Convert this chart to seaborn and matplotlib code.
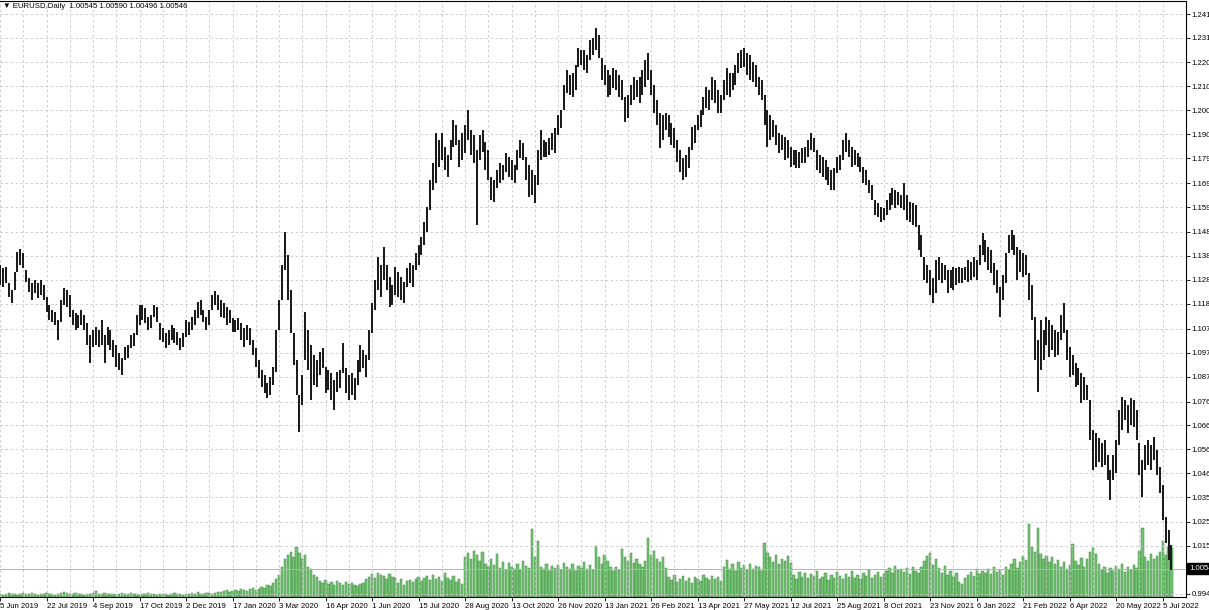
import numpy as np
import pandas as pd
import matplotlib
matplotlib.use("Agg")
import matplotlib.pyplot as plt
import matplotlib.transforms as mtransforms
import seaborn as sns

# =========================
# Data (EURUSD, one bar per 2 trading days)
# =========================
high = [
    1.1345, 1.1333, 1.1337, 1.1269, 1.1239, 1.1316, 1.1401, 1.1413, 1.1396, 1.1324,
    1.1290, 1.1269, 1.1282, 1.1269, 1.1282, 1.1260, 1.1209, 1.1175, 1.1154, 1.1146,
    1.1112, 1.1197, 1.1248, 1.1239, 1.1218, 1.1154, 1.1141, 1.1133, 1.1154, 1.1133,
    1.1099, 1.1048, 1.1069, 1.1082, 1.1069, 1.1112, 1.1048, 1.1082, 1.1069, 1.1027,
    1.1005, 1.0971, 1.0950, 1.0997, 1.1005, 1.1048, 1.1056, 1.1133, 1.1175, 1.1175,
    1.1163, 1.1124, 1.1133, 1.1175, 1.1167, 1.1099, 1.1078, 1.1056, 1.1069, 1.1090,
    1.1078, 1.1061, 1.1035, 1.1056, 1.1112, 1.1103, 1.1124, 1.1154, 1.1188, 1.1197,
    1.1154, 1.1124, 1.1154, 1.1218, 1.1235, 1.1218, 1.1197, 1.1184, 1.1167, 1.1154,
    1.1120, 1.1112, 1.1120, 1.1099, 1.1078, 1.1090, 1.1078, 1.1027, 1.0993, 1.0942,
    1.0899, 1.0878, 1.0844, 1.0869, 1.0912, 1.1069, 1.1197, 1.1345, 1.1486, 1.1388,
    1.1239, 1.1056, 1.0942, 1.0793, 1.0878, 1.1146, 1.1069, 1.1005, 1.0963, 1.0942,
    1.0976, 1.0993, 1.0912, 1.0899, 1.0886, 1.0857, 1.0891, 1.0899, 1.1014, 1.0908,
    1.0878, 1.0886, 1.0865, 1.0942, 1.1005, 1.0984, 1.0963, 1.1069, 1.1184, 1.1282,
    1.1379, 1.1345, 1.1422, 1.1345, 1.1294, 1.1260, 1.1337, 1.1316, 1.1294, 1.1273,
    1.1333, 1.1354, 1.1345, 1.1396, 1.1430, 1.1464, 1.1528, 1.1592, 1.1707, 1.1779,
    1.1906, 1.1877, 1.1906, 1.1847, 1.1813, 1.1877, 1.1962, 1.1940, 1.1877, 1.1906,
    1.1940, 1.2004, 1.1919, 1.1898, 1.1834, 1.1898, 1.1919, 1.1868, 1.1834, 1.1719,
    1.1707, 1.1749, 1.1779, 1.1770, 1.1821, 1.1804, 1.1792, 1.1770, 1.1834, 1.1877,
    1.1864, 1.1804, 1.1770, 1.1749, 1.1728, 1.1834, 1.1919, 1.1877, 1.1868, 1.1885,
    1.1906, 1.1928, 1.1983, 1.2004, 1.2110, 1.2174, 1.2153, 1.2161, 1.2195, 1.2268,
    1.2259, 1.2259, 1.2238, 1.2302, 1.2310, 1.2353, 1.2323, 1.2225, 1.2195, 1.2174,
    1.2153, 1.2183, 1.2174, 1.2153, 1.2132, 1.2059, 1.2068, 1.2110, 1.2144, 1.2132,
    1.2144, 1.2174, 1.2217, 1.2246, 1.2174, 1.2110, 1.2047, 1.1991, 1.1983, 1.1991,
    1.1983, 1.1949, 1.1928, 1.1877, 1.1834, 1.1800, 1.1813, 1.1847, 1.1932, 1.1940,
    1.1983, 1.2004, 1.2059, 1.2102, 1.2089, 1.2144, 1.2132, 1.2089, 1.2068, 1.2132,
    1.2183, 1.2161, 1.2161, 1.2195, 1.2246, 1.2259, 1.2268, 1.2246, 1.2238, 1.2208,
    1.2195, 1.2144, 1.2132, 1.2068, 1.2004, 1.1983, 1.1962, 1.1940, 1.1906, 1.1898,
    1.1889, 1.1877, 1.1847, 1.1834, 1.1834, 1.1826, 1.1843, 1.1847, 1.1877, 1.1906,
    1.1885, 1.1834, 1.1813, 1.1804, 1.1792, 1.1762, 1.1749, 1.1758, 1.1804, 1.1813,
    1.1877, 1.1906, 1.1877, 1.1847, 1.1834, 1.1821, 1.1804, 1.1762, 1.1749, 1.1707,
    1.1685, 1.1622, 1.1609, 1.1592, 1.1588, 1.1622, 1.1651, 1.1673, 1.1664, 1.1656,
    1.1643, 1.1694, 1.1643, 1.1613, 1.1609, 1.1600, 1.1515, 1.1473, 1.1379, 1.1345,
    1.1324, 1.1290, 1.1367, 1.1379, 1.1354, 1.1345, 1.1324, 1.1324, 1.1337, 1.1333,
    1.1337, 1.1333, 1.1337, 1.1367, 1.1358, 1.1379, 1.1367, 1.1430, 1.1481, 1.1452,
    1.1422, 1.1409, 1.1354, 1.1324, 1.1252, 1.1303, 1.1396, 1.1473, 1.1494, 1.1473,
    1.1422, 1.1409, 1.1396, 1.1388, 1.1311, 1.1260, 1.1124, 1.1027, 1.1112, 1.1069,
    1.1124, 1.1112, 1.1090, 1.1069, 1.1061, 1.1133, 1.1184, 1.1069, 1.0997, 1.0963,
    1.0929, 1.0908, 1.0886, 1.0869, 1.0835, 1.0772, 1.0644, 1.0631, 1.0610, 1.0589,
    1.0602, 1.0538, 1.0474, 1.0538, 1.0602, 1.0729, 1.0784, 1.0772, 1.0750, 1.0780,
    1.0772, 1.0729, 1.0589, 1.0517, 1.0580, 1.0602, 1.0580, 1.0614, 1.0559, 1.0487,
    1.0410, 1.0274, 1.0219, 1.0155,
]

low = [
    1.1260, 1.1252, 1.1269, 1.1209, 1.1184, 1.1239, 1.1316, 1.1345, 1.1333, 1.1273,
    1.1231, 1.1197, 1.1226, 1.1205, 1.1218, 1.1197, 1.1146, 1.1112, 1.1103, 1.1090,
    1.1027, 1.1103, 1.1175, 1.1167, 1.1124, 1.1090, 1.1069, 1.1078, 1.1090, 1.1069,
    1.1005, 1.0929, 1.0997, 1.1005, 1.0997, 1.1005, 1.0929, 1.1005, 1.0984, 1.0954,
    1.0912, 1.0899, 1.0878, 1.0942, 1.0950, 1.0993, 1.1001, 1.1048, 1.1090, 1.1112,
    1.1099, 1.1069, 1.1078, 1.1124, 1.1103, 1.1027, 1.1018, 1.0993, 1.1005, 1.1027,
    1.1014, 1.1005, 1.0984, 1.0997, 1.1039, 1.1048, 1.1069, 1.1090, 1.1120, 1.1133,
    1.1103, 1.1069, 1.1090, 1.1154, 1.1175, 1.1154, 1.1124, 1.1120, 1.1090, 1.1099,
    1.1061, 1.1061, 1.1069, 1.1027, 1.0997, 1.1027, 1.1005, 1.0963, 1.0912, 1.0865,
    1.0827, 1.0801, 1.0780, 1.0793, 1.0835, 1.0891, 1.1069, 1.1197, 1.1324, 1.1197,
    1.1056, 1.0920, 1.0793, 1.0636, 1.0750, 1.0942, 1.0899, 1.0772, 1.0835, 1.0827,
    1.0878, 1.0908, 1.0801, 1.0814, 1.0772, 1.0729, 1.0806, 1.0823, 1.0886, 1.0801,
    1.0772, 1.0793, 1.0772, 1.0835, 1.0891, 1.0908, 1.0869, 1.0942, 1.1056, 1.1154,
    1.1239, 1.1209, 1.1282, 1.1239, 1.1167, 1.1175, 1.1218, 1.1209, 1.1197, 1.1184,
    1.1252, 1.1269, 1.1252, 1.1324, 1.1345, 1.1388, 1.1430, 1.1486, 1.1579, 1.1664,
    1.1694, 1.1762, 1.1792, 1.1749, 1.1719, 1.1792, 1.1847, 1.1855, 1.1762, 1.1792,
    1.1821, 1.1877, 1.1813, 1.1779, 1.1515, 1.1792, 1.1826, 1.1749, 1.1707, 1.1622,
    1.1613, 1.1673, 1.1694, 1.1707, 1.1741, 1.1719, 1.1707, 1.1694, 1.1749, 1.1800,
    1.1792, 1.1707, 1.1634, 1.1643, 1.1609, 1.1685, 1.1792, 1.1804, 1.1804, 1.1813,
    1.1834, 1.1821, 1.1898, 1.1928, 1.2004, 1.2076, 1.2068, 1.2059, 1.2089, 1.2187,
    1.2195, 1.2174, 1.2161, 1.2217, 1.2238, 1.2259, 1.2225, 1.2132, 1.2110, 1.2059,
    1.2068, 1.2098, 1.2089, 1.2059, 1.2047, 1.1953, 1.1970, 1.2025, 1.2047, 1.2059,
    1.2034, 1.2068, 1.2102, 1.2132, 1.2068, 1.1991, 1.1940, 1.1843, 1.1877, 1.1919,
    1.1889, 1.1855, 1.1843, 1.1783, 1.1741, 1.1707, 1.1719, 1.1758, 1.1834, 1.1864,
    1.1919, 1.1932, 1.1983, 1.2013, 1.2004, 1.2047, 1.2034, 1.1991, 1.1991, 1.2047,
    1.2068, 1.2059, 1.2089, 1.2110, 1.2161, 1.2183, 1.2187, 1.2153, 1.2132, 1.2123,
    1.2102, 1.2068, 1.2047, 1.1940, 1.1847, 1.1877, 1.1889, 1.1855, 1.1821, 1.1834,
    1.1792, 1.1800, 1.1762, 1.1770, 1.1758, 1.1758, 1.1779, 1.1779, 1.1804, 1.1834,
    1.1826, 1.1749, 1.1736, 1.1719, 1.1707, 1.1685, 1.1664, 1.1664, 1.1736, 1.1749,
    1.1792, 1.1826, 1.1804, 1.1762, 1.1770, 1.1762, 1.1741, 1.1694, 1.1685, 1.1651,
    1.1622, 1.1558, 1.1549, 1.1528, 1.1537, 1.1558, 1.1579, 1.1600, 1.1588, 1.1600,
    1.1588, 1.1579, 1.1537, 1.1528, 1.1515, 1.1507, 1.1409, 1.1379, 1.1282, 1.1269,
    1.1218, 1.1184, 1.1226, 1.1282, 1.1269, 1.1282, 1.1226, 1.1248, 1.1239, 1.1260,
    1.1269, 1.1269, 1.1282, 1.1273, 1.1282, 1.1294, 1.1282, 1.1345, 1.1388, 1.1358,
    1.1324, 1.1311, 1.1260, 1.1226, 1.1124, 1.1197, 1.1269, 1.1396, 1.1409, 1.1388,
    1.1282, 1.1316, 1.1294, 1.1303, 1.1197, 1.1112, 1.0942, 1.0806, 1.0899, 1.0942,
    1.1005, 1.0954, 1.0984, 1.0954, 1.0963, 1.1027, 1.1056, 1.0942, 1.0869, 1.0878,
    1.0827, 1.0835, 1.0759, 1.0772, 1.0772, 1.0602, 1.0474, 1.0487, 1.0508, 1.0487,
    1.0495, 1.0432, 1.0347, 1.0432, 1.0461, 1.0580, 1.0644, 1.0687, 1.0631, 1.0665,
    1.0657, 1.0602, 1.0453, 1.0359, 1.0474, 1.0495, 1.0474, 1.0517, 1.0453, 1.0376,
    1.0262, 1.0164, 1.0092, 1.0049,
]

# tick volume (thousands)
tick_volume = [
    3, 2, 3, 4, 3, 3, 2, 3, 4, 3, 3, 4, 3, 2, 3, 3, 4, 3, 3, 2,
    3, 4, 5, 4, 3, 3, 4, 3, 3, 2, 3, 3, 4, 6, 3, 3, 4, 3, 3, 3,
    2, 3, 4, 3, 3, 4, 3, 3, 2, 3, 3, 4, 3, 3, 2, 3, 3, 3, 2, 3,
    4, 3, 3, 2, 3, 3, 4, 3, 5, 3, 3, 4, 4, 3, 4, 5, 5,
    6, 7, 5, 6,
    7, 6, 8, 7, 6, 8, 9, 7, 8, 10, 9, 12,
    11, 14, 18, 22, 30, 38, 42, 45, 40, 50, 44, 38, 42, 30, 28, 22, 20,
    16, 14, 17, 13, 15, 12, 16, 14, 12, 15, 13, 14, 12,
    11, 13, 14, 18,
    20, 23, 19, 24, 22, 21, 18, 23, 20, 19,
    14, 18, 12, 16,
    17, 15, 18, 20, 16, 19, 21, 17,
    22, 18, 20, 16, 24, 19, 17, 21, 15, 18, 13,
    40, 44, 38, 46, 42, 36, 45, 33,
    30, 38, 32, 43, 29, 35, 27, 34,
    30, 28, 33, 27, 36, 31, 29,
    68, 40, 56,
    30, 28, 33, 26, 31, 29,
    32, 27, 34, 30, 28, 33, 26, 31, 29, 35, 28, 32, 27,
    51, 40, 33, 42, 36, 30, 26, 30, 27, 48, 40, 36,
    44, 34, 38, 33, 30, 36, 59, 42, 46, 38, 35, 40, 29,
    20, 17, 22, 15, 18, 21, 16, 19, 14, 20,
    18, 16, 22, 19, 17, 21, 18, 20, 16,
    30, 37, 28, 33, 26, 35,
    29, 32, 27, 33, 28, 31, 30, 26,
    54, 44,
    40, 35, 42, 33, 38, 36, 41, 34,
    22, 18, 25, 20, 24, 19, 23, 21, 26, 18,
    20, 24, 17, 22, 19, 25, 21, 18, 23, 20, 26, 19, 22,
    18, 24, 21, 27, 19, 22, 25, 20, 23,
    26, 29, 24, 31, 27, 28,
    25, 29, 23, 30, 26, 24,
    30, 36, 41, 44, 32, 38,
    29, 24, 31, 22,
    26, 20, 24, 15, 13, 19, 22,
    25, 21, 28, 23, 26,
    24, 28, 23, 30, 25, 27, 22,
    30, 27, 33, 38, 29,
    35, 41, 37, 73, 50, 45, 69,
    43, 38, 41, 35, 40, 33, 37,
    30, 35, 28, 32, 53,
    36, 32, 39, 30, 38, 45, 49, 43,
    33, 27, 30, 24, 29, 26, 31,
    28, 33, 25, 30, 27, 32, 29, 46, 69,
    40, 36, 43, 38, 41,
    45, 56, 42, 50, 49,
]

date_labels = [
    "5 Jun 2019", "22 Jul 2019", "4 Sep 2019", "17 Oct 2019", "2 Dec 2019",
    "17 Jan 2020", "3 Mar 2020", "16 Apr 2020", "1 Jun 2020", "15 Jul 2020",
    "28 Aug 2020", "13 Oct 2020", "26 Nov 2020", "13 Jan 2021", "26 Feb 2021",
    "13 Apr 2021", "27 May 2021", "12 Jul 2021", "25 Aug 2021", "8 Oct 2021",
    "23 Nov 2021", "6 Jan 2022", "21 Feb 2022", "6 Apr 2022", "20 May 2022",
    "5 Jul 2022",
]
bars_per_label = 16

price_ticks = [0.9947, 1.0151, 1.0253, 1.0358, 1.0460, 1.0562, 1.0664, 1.0765,
               1.0871, 1.0973, 1.1075, 1.1180, 1.1282, 1.1384, 1.1486, 1.1591,
               1.1693, 1.1799, 1.1900, 1.2002, 1.2104, 1.2206, 1.2311, 1.2412]

header = "\u25bc EURUSD,Daily  1.00545 1.00590 1.00496 1.00546"
last_price = 1.00546
last_price_label = "1.0054"

# =========================
# Prepare
# =========================
n = min(len(high), len(low), len(tick_volume))
bars = pd.DataFrame({
    "bar": np.arange(n),
    "high": high[:n],
    "low": low[:n],
    "volume": tick_volume[:n],
})

sns.set_theme(style="white")
plt.rcParams["font.family"] = ["Liberation Sans", "DejaVu Sans"]
fs = 5.6

W, H = 1209, 610
fig = plt.figure(figsize=(W / 100, H / 100), dpi=100)
fig.patch.set_facecolor("white")
ax = fig.add_axes([0, 13 / H, 1186 / W, 596 / H])
ax_vol = ax.twinx()
ax.set_zorder(ax_vol.get_zorder() + 1)
ax.patch.set_visible(False)

# Volume histogram
sns.barplot(ax=ax_vol, data=bars, x="bar", y="volume", native_scale=True,
            color="#78c278", saturation=1, width=0.8, errorbar=None,
            edgecolor="#3a8a3a", linewidth=0.35)
ax_vol.set_ylim(0, 596)
ax_vol.set_axis_off()

# Price bars (high-low)
ax.vlines(bars["bar"], bars["low"], bars["high"], colors="#1c1c1c", linewidth=1.45)

# Bid line + price box
ax.axhline(last_price, color="#b4b4b4", linewidth=0.7, zorder=1)
trans = mtransforms.blended_transform_factory(ax.transAxes, ax.transData)
ax.text(1.0025, last_price, last_price_label, transform=trans, ha="left", va="center",
        color="white", fontsize=fs, clip_on=False,
        bbox=dict(facecolor="black", edgecolor="black", pad=1.3))

# Axes scales
ax.set_xlim(0.34, 405.0)
ax.set_ylim(0.99342, 1.24673)

label_pos = [k * bars_per_label for k in range(len(date_labels))]
ax.set_xticks(label_pos)
ax.set_xticklabels(date_labels, fontsize=fs, ha="left")
ax.set_xticks([p + bars_per_label // 2 for p in label_pos], minor=True)

ax.yaxis.tick_right()
ax.set_yticks(price_ticks)
ax.set_yticklabels([f"{v:.4f}" for v in price_ticks], fontsize=fs)

ax.tick_params(axis="x", which="major", length=3, width=0.6, pad=1, direction="out",
               colors="black", bottom=True)
ax.tick_params(axis="x", which="minor", length=0)
ax.tick_params(axis="y", which="major", length=3, width=0.6, pad=1, direction="out",
               colors="black", right=True, left=False)

ax.grid(True, which="both", axis="x", color="#c6c6c6", linestyle=(0, (3, 3)), linewidth=0.6)
ax.grid(True, which="major", axis="y", color="#c6c6c6", linestyle=(0, (3, 3)), linewidth=0.6)
ax.set_axisbelow(True)

for side in ["top", "right", "bottom"]:
    ax.spines[side].set_visible(True)
    ax.spines[side].set_color("black")
    ax.spines[side].set_linewidth(0.8)
ax.spines["left"].set_visible(False)

ax.text(0.0025, 0.991, header, transform=ax.transAxes, fontsize=fs,
        ha="left", va="center", color="black")

ax.set_xlabel("")
ax.set_ylabel("")

fig.savefig("out.png", dpi=100)
